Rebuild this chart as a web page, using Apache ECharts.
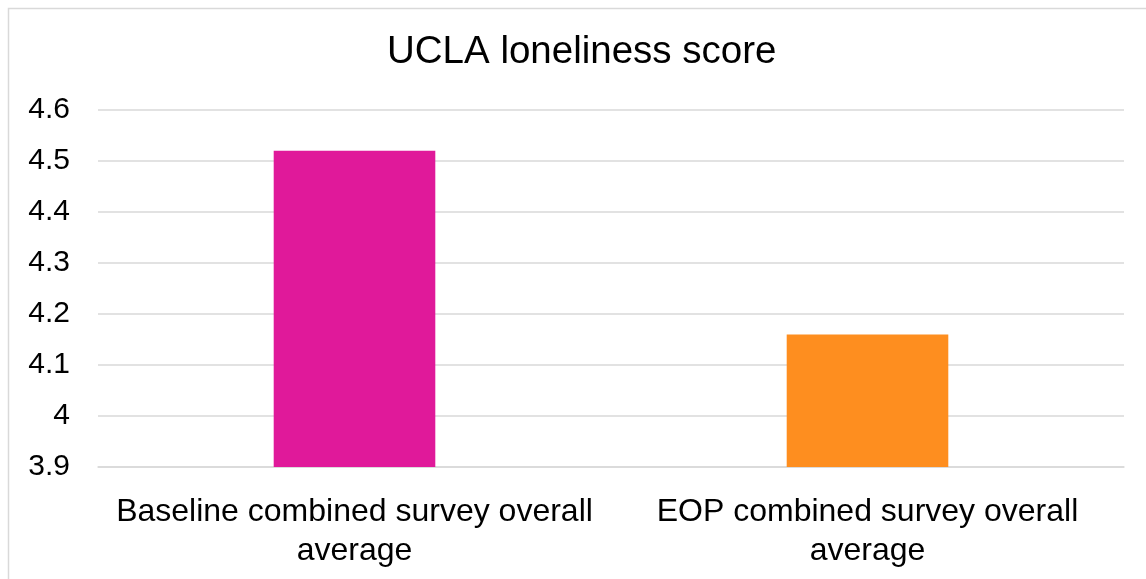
<!DOCTYPE html>
<html>
<head>
<meta charset="utf-8">
<script src="https://cdn.jsdelivr.net/npm/echarts@6/dist/echarts.min.js"></script>
<style>
  html, body { margin: 0; padding: 0; background: #ffffff; }
  #chart { width: 1146px; height: 579px; }
</style>
</head>
<body>
<div id="chart"></div>
<script>
// UCLA loneliness score: baseline vs end-of-programme averages
const categories = [
  'Baseline combined survey overall\naverage',
  'EOP combined survey overall\naverage'
];
const scores = [4.52, 4.16];
const barColors = ['#E0199A', '#FE8E1F'];
const yTicks = { min: 3.9, max: 4.6, step: 0.1 };

const chart = echarts.init(document.getElementById('chart'), null, { renderer: 'canvas' });
const fontFamily = '"Liberation Sans", Arial, Helvetica, sans-serif';

chart.setOption({
  animation: false,
  backgroundColor: '#ffffff',
  graphic: [{
    type: 'rect',
    shape: { x: 8.5, y: 8.5, width: 1160, height: 620 },
    style: { fill: 'none', stroke: '#d9d9d9', lineWidth: 1.5 },
    silent: true
  }],
  title: {
    text: 'UCLA loneliness score',
    left: 387,
    top: 33,
    padding: 0,
    textStyle: { fontFamily, fontSize: 38.5, fontWeight: 'normal', color: '#000000' }
  },
  grid: { left: 98, right: 22, top: 110, bottom: 112, containLabel: false },
  xAxis: {
    type: 'category',
    data: categories,
    axisLine: { show: true, lineStyle: { color: '#d9d9d9', width: 1.5 } },
    axisTick: { show: false },
    axisLabel: {
      fontFamily, fontSize: 32, color: '#000000', lineHeight: 39, margin: 26, interval: 0
    }
  },
  yAxis: {
    type: 'value',
    min: yTicks.min,
    max: yTicks.max,
    interval: yTicks.step,
    axisLine: { show: false },
    axisTick: { show: false },
    splitLine: { lineStyle: { color: '#d9d9d9', width: 1.5 } },
    axisLabel: {
      fontFamily, fontSize: 30, color: '#000000', margin: 28,
      formatter: v => String(parseFloat(v.toFixed(1)))
    }
  },
  series: [{
    type: 'bar',
    data: scores.map((v, i) => ({ value: v, itemStyle: { color: barColors[i] } })),
    barWidth: '31.5%'
  }]
});
</script>
</body>
</html>
